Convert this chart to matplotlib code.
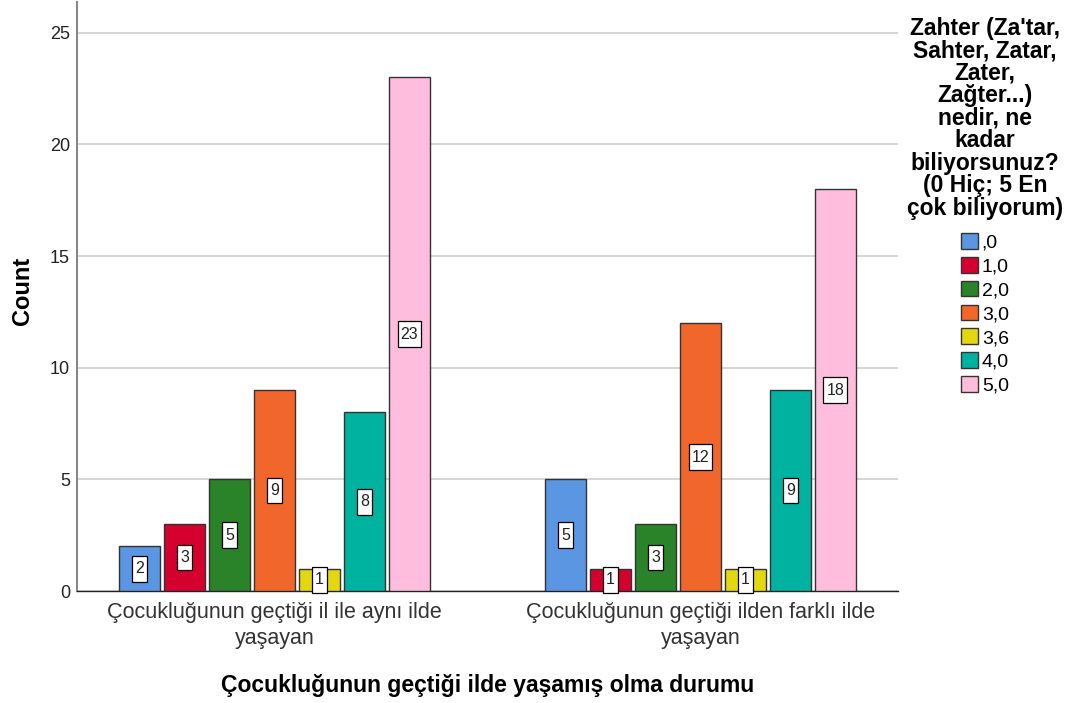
import numpy as np
import matplotlib.pyplot as plt
from matplotlib.path import Path

plt.rcParams['font.family'] = ['Liberation Sans', 'DejaVu Sans']

# Data
groups = ['Çocukluğunun geçtiği il ile aynı ilde\nyaşayan',
          'Çocukluğunun geçtiği ilden farklı ilde\nyaşayan']
answers = [',0', '1,0', '2,0', '3,0', '3,6', '4,0', '5,0']
counts_same = [2, 3, 5, 9, 1, 8, 23]
counts_diff = [5, 1, 3, 12, 1, 9, 18]
colors = ['#5A96E1', '#D6002F', '#2A8229', '#F1672B', '#E3D80F', '#00B3A0', '#FEBDDC']

legend_title = ("Zahter (Za'tar,\nSahter, Zatar,\nZater,\nZağter...)\nnedir, ne\nkadar\n"
                "biliyorsunuz?\n(0 Hiç; 5 En\nçok biliyorum)")


def label_box(x0, y0, width, height, mutation_size):
    # tall narrow box like the SPSS value labels
    px = 0.19 * mutation_size
    py = 0.34 * mutation_size
    x1, y1 = x0 + width + px, y0 + height + py
    x0, y0 = x0 - px, y0 - py
    return Path([(x0, y0), (x1, y0), (x1, y1), (x0, y1), (x0, y0)], closed=True)


fig = plt.figure(figsize=(10.75, 7.03), dpi=100)
ax = fig.add_axes([77 / 1075, 1 - 591 / 703, 821 / 1075, 589 / 703])

x = np.arange(len(groups))
width = 0.0962
step = 0.1056
counts = np.array([counts_same, counts_diff])

for i, (lab, col) in enumerate(zip(answers, colors)):
    pos = x + (i - 3) * step
    vals = counts[:, i]
    ax.bar(pos, vals, width=width, color=col, edgecolor='#333333', linewidth=1.0,
           label=lab, zorder=3)
    for p, v in zip(pos, vals):
        ax.text(p, v / 2, str(v), ha='center', va='center', fontsize=11.5, zorder=5,
                color='#222222',
                bbox=dict(boxstyle=label_box, fc='white', ec='black', lw=0.9))

ax.set_xlim(-0.4636, 1.4636)
ax.set_ylim(0, 26.38)
ax.set_yticks([0, 5, 10, 15, 20, 25])
ax.yaxis.grid(True, color='#d0d0d0', linewidth=1.2, zorder=0)
ax.set_axisbelow(True)
ax.set_xticks(x)
ax.set_xticklabels(groups, fontsize=15.5, color='#333333', linespacing=1.3)
ax.tick_params(axis='y', labelsize=13, colors='#222222', length=0, pad=5)
ax.tick_params(axis='x', length=0, pad=8)
for s in ['top', 'right']:
    ax.spines[s].set_visible(False)
ax.spines['left'].set_color('#888888')
ax.spines['left'].set_linewidth(1.5)
ax.spines['bottom'].set_color('#222222')
ax.spines['bottom'].set_linewidth(1.0)

ax.set_ylabel('Count', fontsize=17, fontweight='bold')
ax.yaxis.set_label_coords(-0.052, 0.51)
ax.set_xlabel('Çocukluğunun geçtiği ilde yaşamış olma durumu', fontsize=16.5,
              fontweight='bold', labelpad=18)

fig.text(985 / 1075, 1 - 17 / 703, legend_title, ha='center', va='top', fontsize=16.5,
         fontweight='bold', linespacing=0.97)
handles, labels = ax.get_legend_handles_labels()
fig.legend(handles, labels, loc='upper left', bbox_to_anchor=(953 / 1075, 1 - 225 / 703),
           frameon=False, fontsize=14, handlelength=0.88, handleheight=0.88,
           handletextpad=0.2, labelspacing=0.27, borderaxespad=0)

fig.savefig('out.png', dpi=100)
